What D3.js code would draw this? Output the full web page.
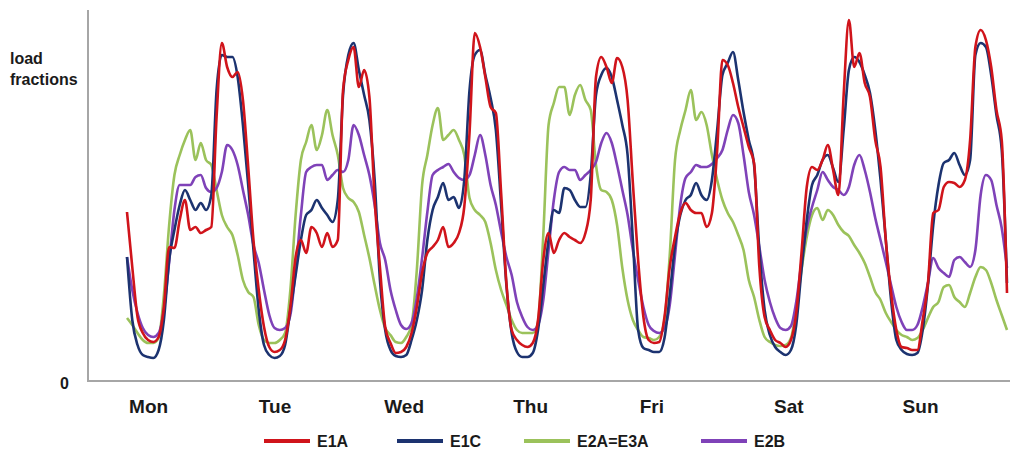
<!DOCTYPE html>
<html>
<head>
<meta charset="utf-8">
<script src="https://cdn.jsdelivr.net/npm/d3@7"></script>
<style>
  body { margin: 0; background: #fff; }
  text { font-family: "Liberation Sans", Arial, sans-serif; font-weight: bold; fill: #1a1a1a; }
</style>
</head>
<body>
<div class="canvas"></div>
<script>
const w = 1013;
const h = 452;

// hourly load fractions over one week (hour 0 = Monday 00:00)
const hours = d3.range(0, 168);
const days = ["Mon", "Tue", "Wed", "Thu", "Fri", "Sat", "Sun"];
const dayTickHours = [4, 28, 52.5, 76.5, 99.5, 125.5, 150.5];

const e1a = [
  42.25, 28.5, 16, 12, 10.25, 9.75, 11, 18.5, 33.5, 33.25, 40.25, 45.25, 37.75, 38.5, 37, 37.75, 38.5, 66, 84.5, 78.5, 76, 77.25, 70.25, 53.5,
  35.25, 22.75, 13.5, 8.5, 7.25, 7.75, 10.25, 18.5, 31, 35.25, 32, 38.5, 37, 33.5, 37, 33.5, 35.25, 72.75, 80.25, 83.5, 73.5, 77.75, 71, 45.25,
  28.5, 13.5, 9.5, 7, 7.25, 8.5, 12, 18.5, 27, 32, 33.5, 35.25, 38.5, 33.5, 34.5, 37, 43.5, 62, 87, 83.5, 76, 68.5, 67, 47,
  24.5, 12.75, 10.25, 9, 8.5, 9.5, 15.25, 30.25, 37, 32, 35.25, 37, 36, 35.25, 34.5, 37, 45.25, 76, 81, 78.5, 74.5, 80.75, 78.5, 70.25,
  49.5, 30.25, 16, 10.25, 9.5, 9.75, 16, 28.5, 36, 42, 44.5, 42.75, 42, 42, 38.5, 42, 57.75, 80.25, 79, 74.5, 68.5, 63.5, 58.5, 54.5,
  28.5, 16, 12.75, 10.25, 9.5, 8.5, 10.25, 17, 32, 48.5, 53.5, 52.75, 55.25, 59, 52.75, 46.5, 71.5, 90.25, 78.5, 82, 74.5, 71, 60.25, 53.5,
  35.25, 22, 12.75, 8.5, 8.25, 7.75, 7.75, 15.25, 24.5, 42, 42.75, 48.5, 49.75, 49.5, 48.5, 50.25, 60.25, 83.5, 87.75, 85.25, 78.5, 67.75, 60.25, 22
];

const e1c = [
  31, 15.25, 9, 6.5, 6, 5.75, 7.75, 15.25, 30.25, 37.75, 44, 47.75, 45.25, 42.75, 44.5, 42.75, 46.5, 72.75, 81.5, 81, 81, 76, 64, 49,
  32.75, 17.75, 9, 6.5, 5.75, 6.25, 9, 17.75, 26.5, 35.25, 41.5, 42.75, 45.25, 43.25, 41.5, 39.75, 45.25, 71.5, 81.5, 84.5, 77.75, 71.5, 65.25, 50.25,
  25.25, 12.75, 7.75, 6.25, 6, 6.5, 10.25, 15.25, 22.75, 35.25, 42.75, 46, 49.5, 45.25, 46, 43.25, 50.25, 72.75, 81.5, 82.75, 76.5, 70.75, 62.75, 44,
  24, 12, 7.25, 6, 6, 7, 12.75, 24, 35.25, 42.75, 42, 48.25, 47.75, 45.25, 43.5, 43.5, 51.5, 71.5, 76.5, 78.25, 76, 70.25, 64, 56.5,
  35.25, 12.75, 8.25, 7.75, 7.25, 7.25, 10.75, 21.5, 34, 41.5, 45.25, 46.5, 49.5, 46.5, 45.25, 50.25, 62.75, 76.5, 79.5, 82.25, 75.25, 67.25, 60.25, 54,
  32.75, 17.75, 11.5, 8.5, 7.25, 6.5, 7.75, 14, 27.75, 40.25, 49, 51.5, 55.25, 56.5, 53.25, 49.75, 62.75, 77.75, 81, 79.75, 76.5, 72, 62.75, 50.25,
  35.25, 20.25, 10.25, 7.75, 6.75, 6.5, 7, 12.75, 24, 39, 49, 54.5, 55.25, 57, 54, 51.5, 55.25, 81.5, 84.5, 83.5, 76.5, 66.5, 57.75, 24.5
];

const e2a = [
  15.75, 14, 12, 10.25, 9.5, 9.5, 10.75, 21.5, 39, 51.5, 56.5, 60.25, 62.75, 55.25, 59.5, 55.25, 54, 47.75, 41.5, 38.5, 36.5, 31.5, 25.25, 22.25,
  21, 14, 10.25, 9.5, 9.5, 10.25, 12, 22.75, 41.5, 55.25, 59.75, 64, 57.75, 61.5, 67.75, 61.5, 56.5, 48.25, 45.75, 44.75, 42.25, 36.5, 30.75, 24,
  17.75, 13.25, 11.5, 9.75, 9.5, 11, 14, 27.75, 49, 56.5, 64, 68.25, 60.25, 61.5, 62.75, 60.25, 56.5, 45.75, 42.75, 41.5, 39.75, 34.5, 27.75, 22.75,
  19, 15.25, 12.75, 12, 12, 12, 14.75, 36.5, 64, 69.5, 73.5, 73.5, 66.5, 71.5, 74, 70.25, 67.75, 54, 47.75, 47.25, 45.25, 39, 28.25, 20.25,
  15.25, 12.75, 11, 10.75, 10.25, 11, 15.25, 31.5, 55.25, 62.75, 67.75, 72.75, 65.25, 67.25, 64, 56.5, 50.25, 45.25, 42, 39.75, 36.5, 32.75, 25.25, 21,
  15.25, 11, 9.75, 9, 8.75, 9, 10.75, 17.75, 27.75, 36, 41.5, 43.25, 40.25, 42.75, 41.5, 39, 37.25, 36.25, 34, 32, 29.5, 26, 22.25, 20.25,
  17, 14.75, 12.75, 11.5, 11, 10.25, 10.75, 12.75, 15.75, 18.5, 19.75, 23.5, 24, 21, 19.75, 18.5, 22, 26, 28.5, 27.75, 24.5, 20.25, 16.5, 12.75
];

const e2b = [
  31, 22.75, 17, 13.25, 11.5, 11, 12, 17.75, 29.75, 42.75, 49, 49, 49, 51, 51.5, 48.25, 47.25, 48.25, 52.25, 59, 57.75, 54, 47.75, 41.5,
  34, 29.5, 22.75, 16.5, 13.25, 12.75, 13.25, 16.5, 27.75, 41.5, 52.25, 53.5, 54, 54, 50.25, 51.5, 52.75, 52.25, 55.25, 64, 61.5, 56.5, 51.5, 44,
  34.5, 30.25, 22.75, 17.75, 14, 13, 14.5, 20.75, 30.75, 42.25, 51.5, 52.75, 53.5, 54.25, 52.25, 50.75, 50.25, 51.5, 56.5, 61.5, 56.5, 49, 44, 37.25,
  31, 26.5, 19.75, 16, 13.5, 12.75, 14, 20.25, 32.75, 45.25, 52.25, 53.5, 52.75, 52.75, 50.25, 51.5, 52.75, 54.75, 59.5, 62, 59.5, 54, 47.75, 41.5,
  32.75, 25.25, 18.5, 14, 12.5, 12, 13.25, 19, 31.5, 44, 50.75, 52.25, 54, 53.5, 53.5, 54.25, 55.75, 57.75, 62.75, 66.5, 64.5, 56.5, 47.25, 41.5,
  33.5, 25.25, 19.75, 15.75, 13.25, 12.75, 13.75, 19.75, 29.75, 38.25, 43.5, 47.75, 52.25, 50.25, 48.5, 47.75, 46.5, 48.5, 54, 56.5, 52.75, 47.25, 40.75, 35.25,
  29.75, 24, 18.5, 14.75, 12.75, 12.75, 14, 18.5, 24.5, 30.75, 28.25, 27, 26, 30.25, 31, 29.75, 28.5, 32.75, 46.5, 51.5, 50.25, 44, 38.25, 28.25
];

const series = [
  { name: "E2A=E3A", values: e2a, color: "#9bc25b" },
  { name: "E2B", values: e2b, color: "#7f42b8" },
  { name: "E1C", values: e1c, color: "#1c3370" },
  { name: "E1A", values: e1a, color: "#d0141b" }
];
const legendOrder = ["E1A", "E1C", "E2A=E3A", "E2B"];

const svg = d3.select(".canvas").append("svg").attr("width", w).attr("height", h);

// plot frame
const frame = { left: 88, right: 1010, top: 10, bottom: 381 };

const xScale = d3.scaleLinear().domain([0, 167]).range([127, 1007]);
const yScale = d3.scaleLinear().domain([0, 92.75]).range([frame.bottom, frame.top]);

// axis lines
svg.append("line")
  .attr("x1", frame.left).attr("x2", frame.left)
  .attr("y1", frame.top).attr("y2", frame.bottom)
  .attr("stroke", "#a6a6a6").attr("stroke-width", 2);
svg.append("line")
  .attr("x1", frame.left - 1).attr("x2", frame.right)
  .attr("y1", frame.bottom).attr("y2", frame.bottom)
  .attr("stroke", "#a6a6a6").attr("stroke-width", 2);

// day labels
const xAxis = d3.axisBottom(xScale)
  .tickValues(dayTickHours)
  .tickFormat((d, i) => days[i])
  .tickSize(0)
  .tickPadding(19);

svg.append("g")
  .attr("id", "x-axis")
  .attr("transform", `translate(0, ${frame.bottom})`)
  .call(xAxis)
  .call(g => g.select(".domain").remove())
  .selectAll("text")
  .style("font-size", "19px")
  .style("font-family", "'Liberation Sans', Arial, sans-serif")
  .style("font-weight", "bold")
  .attr("fill", "#1a1a1a");

// y axis: only the zero label
const yAxis = d3.axisLeft(yScale).tickValues([0]).tickSize(0).tickPadding(19);
svg.append("g")
  .attr("id", "y-axis")
  .attr("transform", `translate(${frame.left}, 0)`)
  .call(yAxis)
  .call(g => g.select(".domain").remove())
  .selectAll("text")
  .style("font-size", "16px")
  .style("font-family", "'Liberation Sans', Arial, sans-serif")
  .style("font-weight", "bold")
  .attr("fill", "#1a1a1a")
  .attr("dy", "0.45em");

// axis title
const title = svg.append("text").attr("x", 10).attr("y", 64).style("font-size", "16px");
title.append("tspan").attr("x", 10).text("load");
title.append("tspan").attr("x", 10).attr("dy", 21).text("fractions");

// lines
const line = d3.line()
  .x((d, i) => xScale(hours[i]))
  .y(d => yScale(d))
  .curve(d3.curveMonotoneX);

svg.append("g")
  .selectAll("path")
  .data(series)
  .enter()
  .append("path")
  .attr("d", d => line(d.values))
  .attr("fill", "none")
  .attr("stroke", d => d.color)
  .attr("stroke-width", 2.6)
  .attr("stroke-linejoin", "round");

// legend
const legendX = [264, 397, 524, 701];
const legend = svg.append("g").attr("transform", "translate(0, 441)");
legendOrder.forEach((name, i) => {
  const s = series.find(d => d.name === name);
  legend.append("line")
    .attr("x1", legendX[i]).attr("x2", legendX[i] + 46)
    .attr("y1", 0).attr("y2", 0)
    .attr("stroke", s.color).attr("stroke-width", 4);
  legend.append("text")
    .attr("x", legendX[i] + 53).attr("y", 6)
    .style("font-size", "16px")
    .text(name);
});
</script>
</body>
</html>
